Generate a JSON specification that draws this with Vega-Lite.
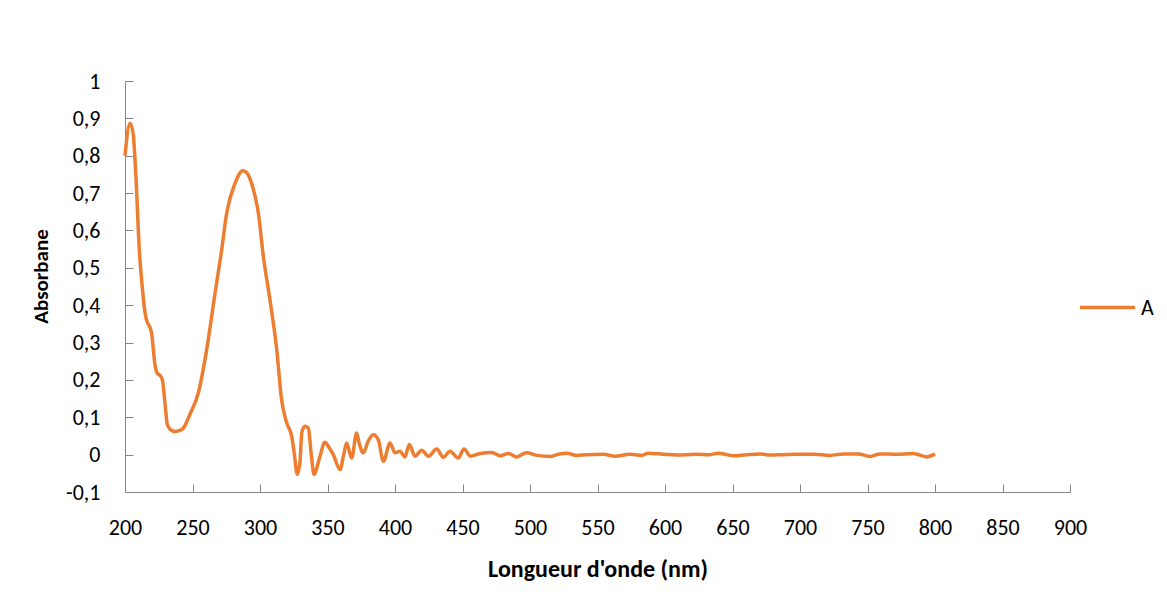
{
  "$schema": "https://vega.github.io/schema/vega-lite/v6.json",
  "width": 945,
  "height": 411,
  "autosize": {"type": "none"},
  "padding": {"left": 125, "top": 81, "right": 97, "bottom": 102},
  "background": "white",
  "config": {
    "view": {"stroke": null},
    "locale": {"number": {"decimal": ",", "thousands": " ", "grouping": [3], "currency": ["", " €"], "minus": "-"}},
    "font": "Carlito, Lato, sans-serif"
  },
  "data": {"values": [
    {"nm": 200, "A": 0.80}, {"nm": 203.7, "A": 0.887}, {"nm": 206, "A": 0.86}, {"nm": 208, "A": 0.75},
    {"nm": 210.6, "A": 0.548}, {"nm": 213, "A": 0.44}, {"nm": 215.3, "A": 0.37}, {"nm": 219.7, "A": 0.325},
    {"nm": 222.2, "A": 0.241}, {"nm": 224, "A": 0.217}, {"nm": 226, "A": 0.212}, {"nm": 227.7, "A": 0.2},
    {"nm": 229.6, "A": 0.138}, {"nm": 231.4, "A": 0.08}, {"nm": 234, "A": 0.066}, {"nm": 237, "A": 0.062},
    {"nm": 240, "A": 0.064}, {"nm": 243.2, "A": 0.071}, {"nm": 248, "A": 0.107}, {"nm": 254.3, "A": 0.165},
    {"nm": 260.5, "A": 0.281}, {"nm": 266.7, "A": 0.432}, {"nm": 271.6, "A": 0.548}, {"nm": 275.3, "A": 0.646},
    {"nm": 281.5, "A": 0.726}, {"nm": 287.2, "A": 0.76}, {"nm": 290, "A": 0.755}, {"nm": 293.8, "A": 0.726},
    {"nm": 298.8, "A": 0.646}, {"nm": 302.5, "A": 0.53}, {"nm": 307.4, "A": 0.414}, {"nm": 312.4, "A": 0.281},
    {"nm": 316, "A": 0.147}, {"nm": 319.8, "A": 0.085}, {"nm": 323.5, "A": 0.049}, {"nm": 325.5, "A": 0.0},
    {"nm": 327.6, "A": -0.053}, {"nm": 329.6, "A": -0.02}, {"nm": 331, "A": 0.06}, {"nm": 333.3, "A": 0.076},
    {"nm": 335.8, "A": 0.071}, {"nm": 338, "A": 0.0}, {"nm": 340, "A": -0.053}, {"nm": 344, "A": -0.01},
    {"nm": 348.1, "A": 0.033}, {"nm": 351, "A": 0.02}, {"nm": 354.3, "A": 0.0}, {"nm": 359.3, "A": -0.04},
    {"nm": 362, "A": 0.0}, {"nm": 364.2, "A": 0.031}, {"nm": 367.9, "A": -0.009}, {"nm": 371.6, "A": 0.058},
    {"nm": 373.5, "A": 0.03}, {"nm": 376.5, "A": 0.005}, {"nm": 380, "A": 0.035}, {"nm": 383.9, "A": 0.053},
    {"nm": 387.6, "A": 0.04}, {"nm": 391.4, "A": -0.018}, {"nm": 396.3, "A": 0.031}, {"nm": 400, "A": 0.005},
    {"nm": 403.7, "A": 0.009}, {"nm": 407.4, "A": -0.006}, {"nm": 410.6, "A": 0.027}, {"nm": 414.8, "A": -0.004},
    {"nm": 419.8, "A": 0.012}, {"nm": 424.7, "A": -0.004}, {"nm": 430.9, "A": 0.015}, {"nm": 435.8, "A": -0.007},
    {"nm": 440.7, "A": 0.009}, {"nm": 446.9, "A": -0.009}, {"nm": 451.1, "A": 0.015}, {"nm": 456, "A": -0.004},
    {"nm": 463, "A": 0.003}, {"nm": 471.6, "A": 0.006}, {"nm": 477.8, "A": -0.003}, {"nm": 484, "A": 0.003},
    {"nm": 490.1, "A": -0.006}, {"nm": 497.5, "A": 0.005}, {"nm": 505, "A": -0.002}, {"nm": 514.8, "A": -0.005},
    {"nm": 521, "A": 0.001}, {"nm": 527.2, "A": 0.004}, {"nm": 534.6, "A": -0.002}, {"nm": 542, "A": 0.0},
    {"nm": 554.3, "A": 0.001}, {"nm": 563, "A": -0.004}, {"nm": 574, "A": 0.001}, {"nm": 582.7, "A": -0.002},
    {"nm": 587.7, "A": 0.004}, {"nm": 598.8, "A": 0.001}, {"nm": 608.6, "A": -0.001}, {"nm": 623.5, "A": 0.001},
    {"nm": 633.3, "A": 0.0}, {"nm": 639.5, "A": 0.004}, {"nm": 645.7, "A": 0.0}, {"nm": 650.6, "A": -0.003},
    {"nm": 660.5, "A": 0.0}, {"nm": 670.4, "A": 0.002}, {"nm": 677.8, "A": -0.001}, {"nm": 687.7, "A": 0.0},
    {"nm": 697.5, "A": 0.001}, {"nm": 709.9, "A": 0.001}, {"nm": 722.2, "A": -0.002}, {"nm": 732.1, "A": 0.002},
    {"nm": 743.2, "A": 0.002}, {"nm": 751.9, "A": -0.005}, {"nm": 759.3, "A": 0.002}, {"nm": 771.6, "A": 0.001},
    {"nm": 784, "A": 0.003}, {"nm": 793.8, "A": -0.006}, {"nm": 800, "A": 0.002}
  ]},
  "mark": {"type": "line", "interpolate": "monotone", "strokeWidth": 3.5, "clip": false},
  "encoding": {
    "x": {
      "field": "nm", "type": "quantitative",
      "scale": {"domain": [200, 900], "nice": false, "zero": false},
      "axis": {
        "title": "Longueur d'onde (nm)",
        "values": [200, 250, 300, 350, 400, 450, 500, 550, 600, 650, 700, 750, 800, 850, 900],
        "format": "d",
        "grid": false,
        "labelFlush": false, "labelOverlap": false,
        "domainColor": "#868686", "domainWidth": 1,
        "tickColor": "#868686", "tickSize": -8, "tickWidth": 1,
        "labelPadding": 33, "labelFontSize": 22, "labelColor": "#000000",
        "labelFont": "Carlito, Lato, sans-serif",
        "titleFontSize": 24, "titleFontWeight": "bold", "titleColor": "#000000",
        "titleFont": "Carlito, Lato, sans-serif",
        "titleY": 77, "titleBaseline": "middle"
      }
    },
    "y": {
      "field": "A", "type": "quantitative",
      "scale": {"domain": [-0.1, 1], "nice": false, "zero": false},
      "axis": {
        "title": "Absorbane",
        "values": [-0.1, 0, 0.1, 0.2, 0.3, 0.4, 0.5, 0.6, 0.7, 0.8, 0.9, 1],
        "format": ".2~f",
        "grid": false,
        "labelOverlap": false,
        "domainColor": "#868686", "domainWidth": 1,
        "tickColor": "#868686", "tickSize": -8, "tickWidth": 1,
        "labelPadding": 33, "labelFontSize": 22, "labelColor": "#000000",
        "labelFont": "Carlito, Lato, sans-serif",
        "titleFontSize": 21, "titleFontWeight": "bold", "titleColor": "#000000",
        "titleFont": "Carlito, Lato, sans-serif",
        "titleX": -84, "titleY": 195, "titleBaseline": "middle", "titleAngle": -90
      }
    },
    "color": {
      "datum": "A",
      "scale": {"domain": ["A"], "range": ["#ED7D31"]},
      "legend": {
        "title": null, "orient": "none", "legendX": 953, "legendY": 197,
        "padding": 0,
        "symbolType": "stroke", "symbolSize": 3025, "symbolStrokeWidth": 3.5,
        "labelFontSize": 22, "labelColor": "#000000", "labelOffset": 4,
        "labelFont": "Carlito, Lato, sans-serif"
      }
    }
  }
}
